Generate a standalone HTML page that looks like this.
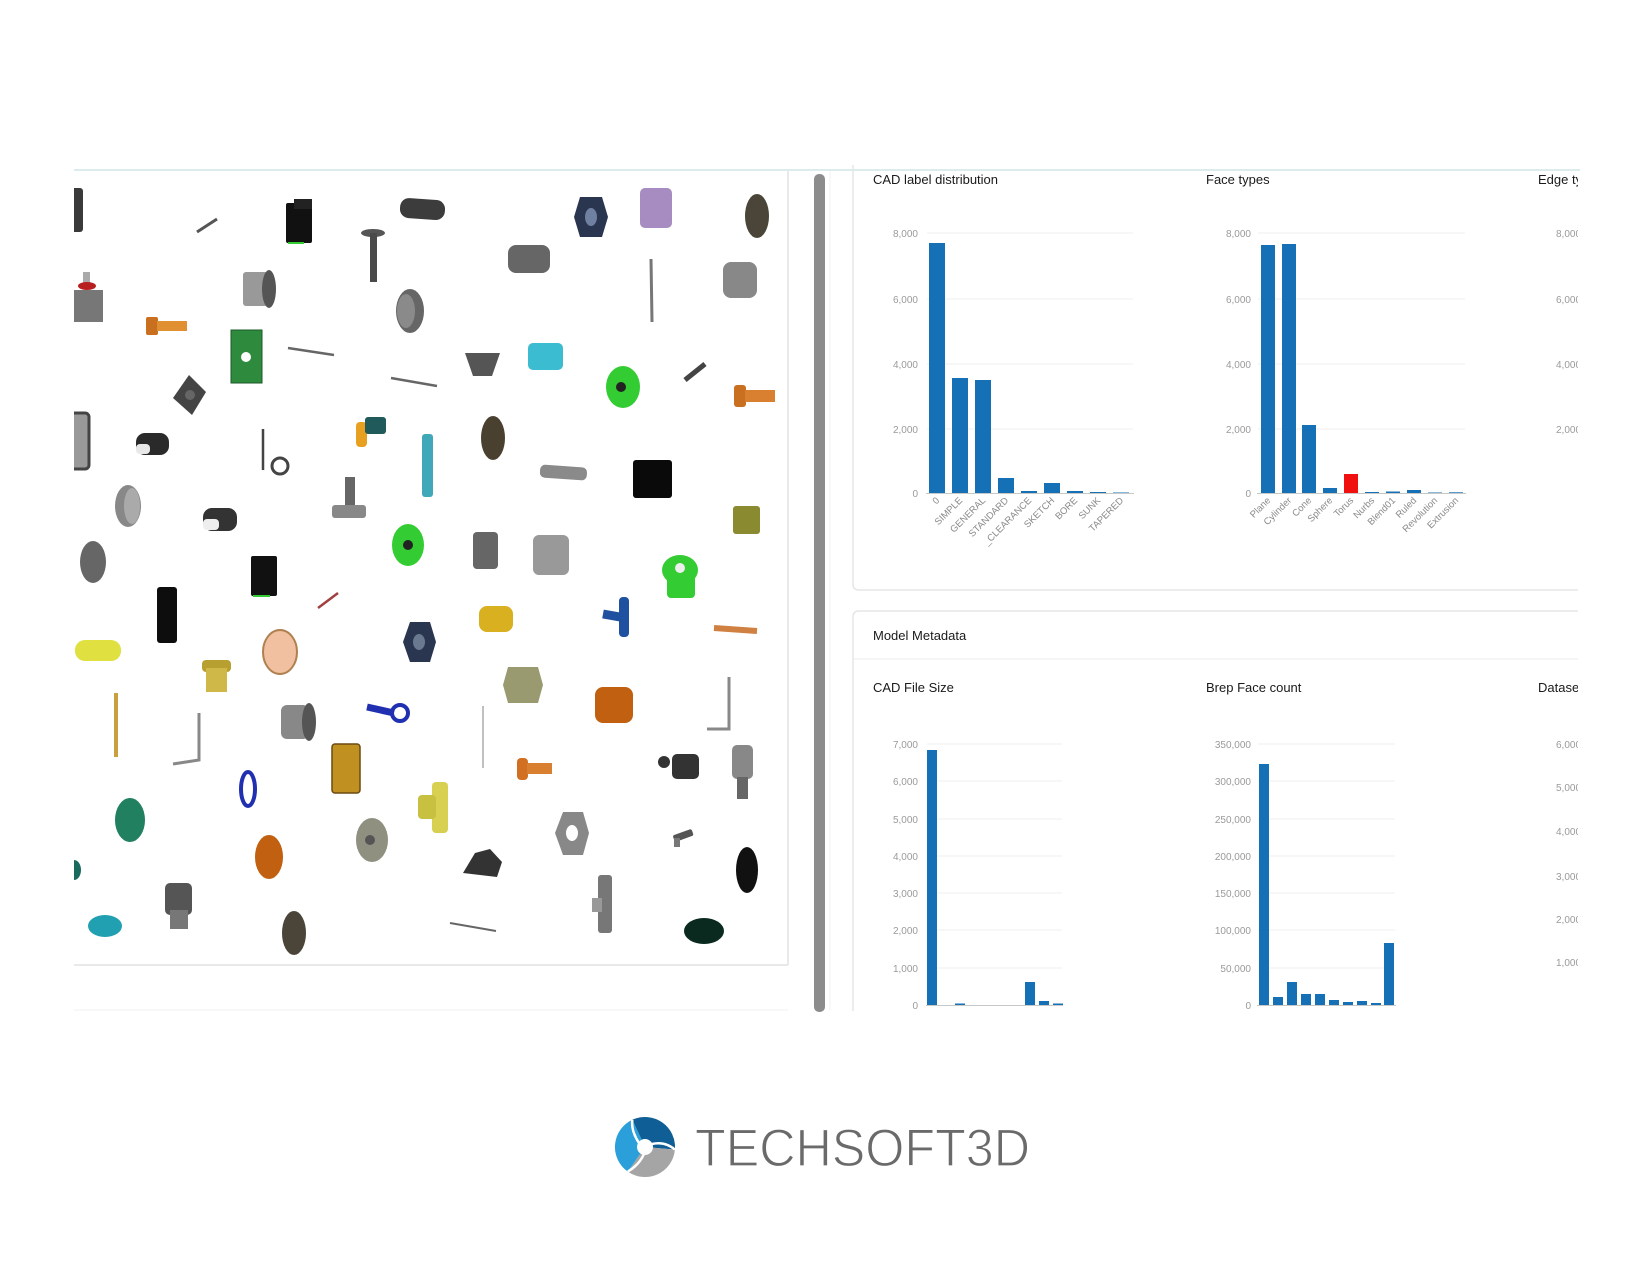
<!DOCTYPE html>
<html><head><meta charset="utf-8"><style>
html,body{margin:0;padding:0;background:#fff;}
svg{display:block;}
text{font-family:"Liberation Sans",sans-serif;}
</style></head><body>
<svg width="1650" height="1275" viewBox="0 0 1650 1275" xmlns="http://www.w3.org/2000/svg">
<defs>
<clipPath id="rc"><rect x="830" y="160" width="748" height="851"/></clipPath>
<clipPath id="lc"><rect x="74" y="171" width="714" height="794"/></clipPath>
</defs>
<rect width="1650" height="1275" fill="#fff"/>

<!-- top border line -->
<rect x="74" y="169" width="1506" height="2" fill="#dcecec"/>

<!-- left viewer panel -->
<rect x="74" y="171" width="714" height="794" fill="#fff"/>
<line x1="788" y1="171" x2="788" y2="965" stroke="#e2e2e2" stroke-width="1.5"/>
<line x1="74" y1="965" x2="788" y2="965" stroke="#e2e2e2" stroke-width="1.5"/>
<line x1="74" y1="1010" x2="788" y2="1010" stroke="#f0f0f0" stroke-width="1"/>
<g clip-path="url(#lc)">
<!-- top half parts -->
<rect x="70" y="188" width="13" height="44" rx="3" fill="#3a3a3a"/>
<line x1="197" y1="232" x2="217" y2="219" stroke="#555" stroke-width="3"/>
<rect x="286" y="203" width="26" height="40" rx="2" fill="#111"/>
<rect x="294" y="199" width="18" height="10" fill="#222"/>
<line x1="288" y1="243" x2="304" y2="243" stroke="#3c3" stroke-width="2"/>
<rect x="400" y="199" width="45" height="20" rx="9" fill="#3c3c3c" transform="rotate(4 422 209)"/>
<ellipse cx="373" cy="233" rx="12" ry="4" fill="#555"/>
<rect x="370" y="233" width="7" height="49" fill="#4a4a4a"/>
<rect x="74" y="290" width="29" height="32" fill="#777"/>
<rect x="83" y="272" width="7" height="12" fill="#aaa"/>
<ellipse cx="87" cy="286" rx="9" ry="4" fill="#b82020"/>
<rect x="243" y="272" width="25" height="34" rx="3" fill="#999"/>
<ellipse cx="269" cy="289" rx="7" ry="19" fill="#555"/>
<rect x="146" y="317" width="12" height="18" rx="2" fill="#c87020"/>
<rect x="157" y="321" width="30" height="10" fill="#e09030"/>
<ellipse cx="410" cy="311" rx="14" ry="22" fill="#666"/>
<ellipse cx="406" cy="311" rx="9" ry="17" fill="#8a8a8a"/>
<rect x="231" y="330" width="31" height="53" fill="#2e8b3e" stroke="#1d5a27" stroke-width="1"/>
<circle cx="246" cy="357" r="5" fill="#fff"/>
<line x1="288" y1="348" x2="334" y2="355" stroke="#666" stroke-width="2.5"/>
<line x1="391" y1="378" x2="437" y2="386" stroke="#666" stroke-width="2.5"/>
<polygon points="189,375 206,392 192,415 173,398" fill="#444"/>
<circle cx="190" cy="395" r="5" fill="#666"/>
<rect x="70" y="413" width="19" height="56" rx="4" fill="#999" stroke="#444" stroke-width="3"/>
<rect x="136" y="433" width="33" height="22" rx="9" fill="#2a2a2a"/>
<rect x="136" y="444" width="14" height="10" rx="4" fill="#e8e8e8"/>
<line x1="263" y1="429" x2="263" y2="470" stroke="#444" stroke-width="2.5"/>
<circle cx="280" cy="466" r="8" fill="none" stroke="#444" stroke-width="3"/>
<rect x="356" y="422" width="11" height="25" rx="4" fill="#e8a020"/>
<rect x="365" y="417" width="21" height="17" rx="3" fill="#205a5a"/>
<rect x="422" y="434" width="11" height="63" rx="3" fill="#40a8b8"/>
<ellipse cx="128" cy="506" rx="13" ry="21" fill="#888"/>
<ellipse cx="132" cy="506" rx="8" ry="18" fill="#aaa"/>
<rect x="203" y="508" width="34" height="23" rx="9" fill="#333"/>
<rect x="203" y="519" width="16" height="11" rx="4" fill="#eee"/>
<rect x="345" y="477" width="10" height="33" fill="#666"/>
<rect x="332" y="505" width="34" height="13" rx="3" fill="#888"/>
<ellipse cx="408" cy="545" rx="16" ry="21" fill="#33cc33"/>
<circle cx="408" cy="545" r="5" fill="#222"/>
<ellipse cx="93" cy="562" rx="13" ry="21" fill="#666"/>
<rect x="251" y="556" width="26" height="40" rx="2" fill="#111"/>
<line x1="253" y1="596" x2="270" y2="596" stroke="#3c3" stroke-width="2"/>
<polygon points="580,197 602,197 608,217 602,237 580,237 574,217" fill="#2a3550"/>
<ellipse cx="591" cy="217" rx="6" ry="9" fill="#7080a0"/>
<rect x="640" y="188" width="32" height="40" rx="5" fill="#a68cc0"/>
<ellipse cx="757" cy="216" rx="12" ry="22" fill="#4a4538"/>
<rect x="508" y="245" width="42" height="28" rx="8" fill="#666"/>
<line x1="651" y1="259" x2="652" y2="322" stroke="#777" stroke-width="3"/>
<rect x="723" y="262" width="34" height="36" rx="8" fill="#888"/>
<polygon points="465,353 500,353 492,376 473,376" fill="#555"/>
<rect x="528" y="343" width="35" height="27" rx="5" fill="#3bbcd0"/>
<ellipse cx="623" cy="387" rx="17" ry="21" fill="#33cc33"/>
<circle cx="621" cy="387" r="5" fill="#222"/>
<line x1="685" y1="380" x2="705" y2="364" stroke="#444" stroke-width="5"/>
<rect x="734" y="385" width="12" height="22" rx="3" fill="#c87020"/>
<rect x="745" y="390" width="30" height="12" fill="#d88030"/>
<ellipse cx="493" cy="438" rx="12" ry="22" fill="#4a4030"/>
<rect x="540" y="466" width="47" height="13" rx="5" fill="#8a8a8a" transform="rotate(4 563 472)"/>
<rect x="633" y="460" width="39" height="38" rx="3" fill="#0a0a0a"/>
<rect x="733" y="506" width="27" height="28" rx="3" fill="#8a8a30"/>
<rect x="473" y="532" width="25" height="37" rx="4" fill="#666"/>
<rect x="533" y="535" width="36" height="40" rx="6" fill="#999"/>
<ellipse cx="680" cy="570" rx="18" ry="15" fill="#33cc33"/>
<rect x="667" y="575" width="28" height="23" rx="4" fill="#33cc33"/>
<circle cx="680" cy="568" r="5" fill="#eee"/>
<!-- bottom half parts -->
<rect x="157" y="587" width="20" height="56" rx="3" fill="#0d0d0d"/>
<line x1="318" y1="608" x2="338" y2="593" stroke="#a04040" stroke-width="2.5"/>
<polygon points="410,622 430,622 436,642 430,662 410,662 403,642" fill="#2a3550"/>
<ellipse cx="419" cy="642" rx="6" ry="8" fill="#6a7890"/>
<rect x="75" y="640" width="46" height="21" rx="10" fill="#e0e040"/>
<ellipse cx="280" cy="652" rx="17" ry="22" fill="#f0c0a0" stroke="#b08050" stroke-width="2"/>
<rect x="202" y="660" width="29" height="12" rx="4" fill="#b8a030"/>
<rect x="206" y="668" width="21" height="24" fill="#d0b848"/>
<line x1="116" y1="693" x2="116" y2="757" stroke="#c8a040" stroke-width="4"/>
<path d="M199,713 L199,760 L173,764" fill="none" stroke="#888" stroke-width="3"/>
<rect x="281" y="705" width="28" height="34" rx="6" fill="#888"/>
<ellipse cx="309" cy="722" rx="7" ry="19" fill="#555"/>
<line x1="367" y1="707" x2="394" y2="713" stroke="#2030b0" stroke-width="7"/>
<circle cx="400" cy="713" r="8" fill="none" stroke="#2030b0" stroke-width="4"/>
<ellipse cx="248" cy="789" rx="7" ry="17" fill="none" stroke="#2030b0" stroke-width="4"/>
<rect x="332" y="744" width="28" height="49" rx="3" fill="#c09020" stroke="#6a4a10" stroke-width="1.5"/>
<rect x="432" y="782" width="16" height="51" rx="4" fill="#d8d050"/>
<rect x="418" y="795" width="18" height="24" rx="4" fill="#c8c040"/>
<ellipse cx="130" cy="820" rx="15" ry="22" fill="#208060"/>
<ellipse cx="269" cy="857" rx="14" ry="22" fill="#c06010"/>
<ellipse cx="372" cy="840" rx="16" ry="22" fill="#909080"/>
<circle cx="370" cy="840" r="5" fill="#555"/>
<ellipse cx="74" cy="870" rx="7" ry="10" fill="#1a6a60"/>
<rect x="165" y="883" width="27" height="32" rx="5" fill="#555"/>
<rect x="170" y="910" width="18" height="19" fill="#777"/>
<ellipse cx="105" cy="926" rx="17" ry="11" fill="#20a0b0"/>
<ellipse cx="294" cy="933" rx="12" ry="22" fill="#4a4538"/>
<line x1="450" y1="923" x2="496" y2="931" stroke="#666" stroke-width="2"/>
<rect x="479" y="606" width="34" height="26" rx="8" fill="#d8b020"/>
<line x1="603" y1="614" x2="620" y2="617" stroke="#2050a0" stroke-width="9"/>
<rect x="619" y="597" width="10" height="40" rx="4" fill="#2050a0"/>
<line x1="714" y1="628" x2="757" y2="631" stroke="#d08040" stroke-width="6"/>
<polygon points="508,667 538,667 543,685 538,703 508,703 503,685" fill="#9a9a70"/>
<line x1="483" y1="706" x2="483" y2="768" stroke="#aaa" stroke-width="1.5"/>
<rect x="595" y="687" width="38" height="36" rx="8" fill="#c06010"/>
<path d="M729,677 L729,729 L707,729" fill="none" stroke="#888" stroke-width="3"/>
<rect x="517" y="758" width="11" height="22" rx="4" fill="#d07020"/>
<rect x="527" y="763" width="25" height="11" fill="#d88030"/>
<circle cx="664" cy="762" r="6" fill="#333"/>
<rect x="672" y="754" width="27" height="25" rx="5" fill="#333"/>
<rect x="732" y="745" width="21" height="34" rx="5" fill="#888"/>
<rect x="737" y="777" width="11" height="22" fill="#666"/>
<polygon points="563,812 583,812 589,833 583,855 563,855 555,833" fill="#888"/>
<ellipse cx="572" cy="833" rx="6" ry="8" fill="#fff"/>
<rect x="673" y="832" width="20" height="7" rx="2" fill="#555" transform="rotate(-20 683 835)"/>
<rect x="674" y="838" width="6" height="9" fill="#777"/>
<polygon points="463,873 475,853 490,849 502,862 497,877" fill="#333"/>
<ellipse cx="747" cy="870" rx="11" ry="23" fill="#111"/>
<rect x="598" y="875" width="14" height="58" rx="3" fill="#777"/>
<rect x="592" y="898" width="10" height="14" fill="#999"/>
<ellipse cx="704" cy="931" rx="20" ry="13" fill="#0a2a20"/>
</g>

<!-- scrollbar -->
<rect x="814" y="174" width="11" height="838" rx="5" fill="#8c8c8c"/>
<line x1="830" y1="171" x2="830" y2="1010" stroke="#f0f0f0" stroke-width="1"/>

<!-- right panel -->
<g clip-path="url(#rc)">
<!-- card 1 -->
<path d="M853,165 L853,584 Q853,590 859,590 L1600,590" fill="none" stroke="#e6e6e6" stroke-width="1.5"/>
<text x="873" y="184" font-size="13" fill="#1a1a1a">CAD label distribution</text>
<text x="1206" y="184" font-size="13" fill="#1a1a1a">Face types</text>
<text x="1538" y="184" font-size="13" fill="#1a1a1a">Edge types</text>

<!-- chart 1 -->
<g stroke="#efefef" stroke-width="1">
<line x1="927" y1="233" x2="1133" y2="233"/><line x1="927" y1="299" x2="1133" y2="299"/>
<line x1="927" y1="364" x2="1133" y2="364"/><line x1="927" y1="429" x2="1133" y2="429"/>
</g>
<line x1="926" y1="493.5" x2="1134" y2="493.5" stroke="#c8c8c8" stroke-width="1"/>
<g font-size="10" fill="#9a9a9a" text-anchor="end">
<text x="918" y="237">8,000</text><text x="918" y="303">6,000</text>
<text x="918" y="368">4,000</text><text x="918" y="433">2,000</text><text x="918" y="497">0</text>
</g>
<g fill="#1570b6">
<rect x="929" y="243" width="16" height="250"/><rect x="952" y="378" width="16" height="115"/>
<rect x="975" y="380" width="16" height="113"/><rect x="998" y="478" width="16" height="15"/>
<rect x="1021" y="491" width="16" height="2"/><rect x="1044" y="483" width="16" height="10"/>
<rect x="1067" y="491" width="16" height="2"/><rect x="1090" y="492" width="16" height="1"/>
<rect x="1113" y="492.5" width="16" height="0.5"/>
</g>
<g font-size="9.5" fill="#8a8a8a" text-anchor="end">
<text transform="translate(940,501) rotate(-45)">0</text>
<text transform="translate(963,501) rotate(-45)">SIMPLE</text>
<text transform="translate(986,501) rotate(-45)">GENERAL</text>
<text transform="translate(1009,501) rotate(-45)">STANDARD</text>
<text transform="translate(1032,501) rotate(-45)">_CLEARANCE</text>
<text transform="translate(1055,501) rotate(-45)">SKETCH</text>
<text transform="translate(1078,501) rotate(-45)">BORE</text>
<text transform="translate(1101,501) rotate(-45)">SUNK</text>
<text transform="translate(1124,501) rotate(-45)">TAPERED</text>
</g>

<!-- chart 2 -->
<g stroke="#efefef" stroke-width="1">
<line x1="1258" y1="233" x2="1465" y2="233"/><line x1="1258" y1="299" x2="1465" y2="299"/>
<line x1="1258" y1="364" x2="1465" y2="364"/><line x1="1258" y1="429" x2="1465" y2="429"/>
</g>
<line x1="1257" y1="493.5" x2="1466" y2="493.5" stroke="#c8c8c8" stroke-width="1"/>
<g font-size="10" fill="#9a9a9a" text-anchor="end">
<text x="1251" y="237">8,000</text><text x="1251" y="303">6,000</text>
<text x="1251" y="368">4,000</text><text x="1251" y="433">2,000</text><text x="1251" y="497">0</text>
</g>
<g fill="#1570b6">
<rect x="1261" y="245" width="14" height="248"/><rect x="1282" y="244" width="14" height="249"/>
<rect x="1302" y="425" width="14" height="68"/><rect x="1323" y="488" width="14" height="5"/>
<rect x="1365" y="492" width="14" height="1"/><rect x="1386" y="491.5" width="14" height="1.5"/>
<rect x="1407" y="490" width="14" height="3"/><rect x="1428" y="492.5" width="14" height="0.5"/>
<rect x="1449" y="492.3" width="14" height="0.7"/>
</g>
<rect x="1344" y="474" width="14" height="19" fill="#f01010"/>
<g font-size="9.5" fill="#8a8a8a" text-anchor="end">
<text transform="translate(1271,501) rotate(-45)">Plane</text>
<text transform="translate(1292,501) rotate(-45)">Cylinder</text>
<text transform="translate(1312,501) rotate(-45)">Cone</text>
<text transform="translate(1333,501) rotate(-45)">Sphere</text>
<text transform="translate(1354,501) rotate(-45)">Torus</text>
<text transform="translate(1375,501) rotate(-45)">Nurbs</text>
<text transform="translate(1396,501) rotate(-45)">Blend01</text>
<text transform="translate(1417,501) rotate(-45)">Ruled</text>
<text transform="translate(1438,501) rotate(-45)">Revolution</text>
<text transform="translate(1459,501) rotate(-45)">Extrusion</text>
</g>

<!-- chart 3 partial -->
<g font-size="10" fill="#9a9a9a">
<text x="1556" y="237">8,000</text><text x="1556" y="303">6,000</text>
<text x="1556" y="368">4,000</text><text x="1556" y="433">2,000</text>
</g>

<!-- card 2 -->
<path d="M853,1020 L853,617 Q853,611 859,611 L1600,611" fill="none" stroke="#e6e6e6" stroke-width="1.5"/>
<line x1="853" y1="659" x2="1600" y2="659" stroke="#ececec" stroke-width="1"/>
<text x="873" y="640" font-size="13" fill="#1a1a1a">Model Metadata</text>
<text x="873" y="692" font-size="13" fill="#1a1a1a">CAD File Size</text>
<text x="1206" y="692" font-size="13" fill="#1a1a1a">Brep Face count</text>
<text x="1538" y="692" font-size="13" fill="#1a1a1a">Dataset</text>

<!-- chart 4 -->
<g stroke="#efefef" stroke-width="1">
<line x1="927" y1="744" x2="1062" y2="744"/><line x1="927" y1="781" x2="1062" y2="781"/>
<line x1="927" y1="819" x2="1062" y2="819"/><line x1="927" y1="856" x2="1062" y2="856"/>
<line x1="927" y1="893" x2="1062" y2="893"/><line x1="927" y1="930" x2="1062" y2="930"/>
<line x1="927" y1="968" x2="1062" y2="968"/>
</g>
<line x1="926" y1="1005.5" x2="1063" y2="1005.5" stroke="#c8c8c8" stroke-width="1"/>
<g font-size="10" fill="#9a9a9a" text-anchor="end">
<text x="918" y="748">7,000</text><text x="918" y="785">6,000</text><text x="918" y="823">5,000</text>
<text x="918" y="860">4,000</text><text x="918" y="897">3,000</text><text x="918" y="934">2,000</text>
<text x="918" y="972">1,000</text><text x="918" y="1009">0</text>
</g>
<g fill="#1570b6">
<rect x="927" y="750" width="10" height="255"/><rect x="955" y="1003.5" width="10" height="1.5"/>
<rect x="1025" y="982" width="10" height="23"/><rect x="1039" y="1001" width="10" height="4"/>
<rect x="1053" y="1003.5" width="10" height="1.5"/>
</g>

<!-- chart 5 -->
<g stroke="#efefef" stroke-width="1">
<line x1="1258" y1="744" x2="1395" y2="744"/><line x1="1258" y1="781" x2="1395" y2="781"/>
<line x1="1258" y1="819" x2="1395" y2="819"/><line x1="1258" y1="856" x2="1395" y2="856"/>
<line x1="1258" y1="893" x2="1395" y2="893"/><line x1="1258" y1="930" x2="1395" y2="930"/>
<line x1="1258" y1="968" x2="1395" y2="968"/>
</g>
<line x1="1257" y1="1005.5" x2="1396" y2="1005.5" stroke="#c8c8c8" stroke-width="1"/>
<g font-size="10" fill="#9a9a9a" text-anchor="end">
<text x="1251" y="748">350,000</text><text x="1251" y="785">300,000</text><text x="1251" y="823">250,000</text>
<text x="1251" y="860">200,000</text><text x="1251" y="897">150,000</text><text x="1251" y="934">100,000</text>
<text x="1251" y="972">50,000</text><text x="1251" y="1009">0</text>
</g>
<g fill="#1570b6">
<rect x="1259" y="764" width="10" height="241"/><rect x="1273" y="997" width="10" height="8"/>
<rect x="1287" y="982" width="10" height="23"/><rect x="1301" y="994" width="10" height="11"/>
<rect x="1315" y="994" width="10" height="11"/><rect x="1329" y="1000" width="10" height="5"/>
<rect x="1343" y="1002" width="10" height="3"/><rect x="1357" y="1001" width="10" height="4"/>
<rect x="1371" y="1003" width="10" height="2"/><rect x="1384" y="943" width="10" height="62"/>
</g>

<!-- chart 6 partial -->
<g font-size="10" fill="#9a9a9a">
<text x="1556" y="748">6,000</text><text x="1556" y="791">5,000</text><text x="1556" y="835">4,000</text>
<text x="1556" y="880">3,000</text><text x="1556" y="923">2,000</text><text x="1556" y="966">1,000</text>
</g>
</g>

<!-- logo -->
<g transform="translate(645,1147)">
<path d="M0,0 L-12.7,-27.2 A30,30 0 0 1 29.9,2.6 Z" fill="#0f5f96"/>
<path d="M0,0 L29.9,2.6 A30,30 0 0 1 -17.2,24.6 Z" fill="#a5a5a5"/>
<path d="M0,0 L-17.2,24.6 A30,30 0 0 1 -12.7,-27.2 Z" fill="#2a9fd9"/>
<g stroke="#fff" stroke-width="2.5" fill="none">
<path d="M-6,-4 Q-14,-16 -12.7,-27.2"/>
<path d="M7,-3 Q20,-6 29.9,2.6"/>
<path d="M-1,7 Q-6,18 -17.2,24.6"/>
</g>
<circle r="8" fill="#fff"/>
</g>
<text x="695" y="1166" font-size="53" fill="#6a6a6a" stroke="#fff" stroke-width="1.2" textLength="335" lengthAdjust="spacingAndGlyphs">TECHSOFT3D</text>
</svg>
</body></html>
